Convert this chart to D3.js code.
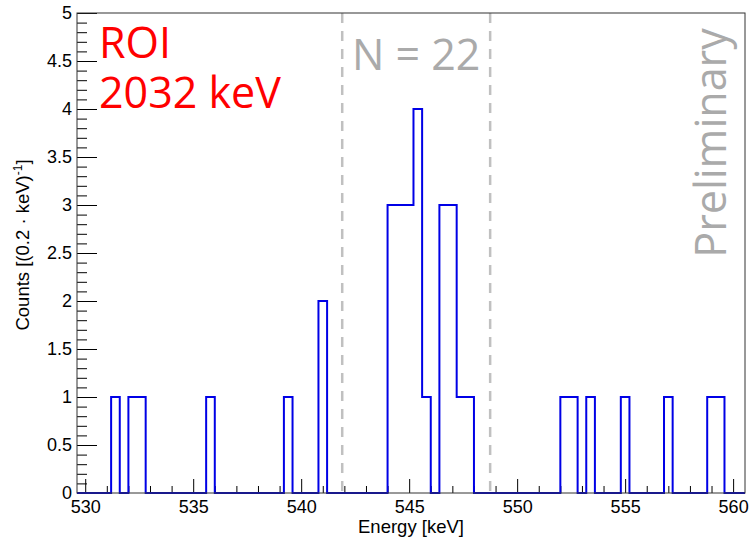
<!DOCTYPE html>
<html>
<head>
<meta charset="utf-8">
<script src="https://cdn.jsdelivr.net/npm/d3@7"></script>
<style>
  body { margin: 0; background: #fff; }
  svg { display: block; }
  .axis text { font-family: "Liberation Sans", Arial, sans-serif; font-size: 18px; fill: #000; }
  .axis path { display: none; }
  .axis line { stroke: #000; stroke-width: 1; }
</style>
</head>
<body>
<div id="chart"></div>
<script>
// histogram bins (lower edges, keV) with non-zero counts, bin width 0.4 keV
const binWidth = 0.4;
const binLow = [531.2, 532.0, 532.4, 535.6, 539.2, 540.8,
                544.0, 544.4, 544.8, 545.2, 545.6, 546.4, 546.8, 547.2, 547.6,
                552.0, 552.4, 553.2, 554.8, 556.8, 558.8, 559.2];
const counts = [1, 1, 1, 1, 1, 2,
                3, 3, 3, 4, 1, 3, 3, 1, 1,
                1, 1, 1, 1, 1, 1, 1];
const xRange = [529.62, 560.55];
const yRange = [0, 5];
const xTicks = [530, 535, 540, 545, 550, 555, 560];
const yTicks = [0, 0.5, 1, 1.5, 2, 2.5, 3, 3.5, 4, 4.5, 5];
const roiEdges = [541.9, 548.75];
const roiCount = "N = 22";

const W = 751, H = 541;
const margin = { top: 13, right: 6, bottom: 48, left: 77 },
      width = W - margin.left - margin.right,
      height = H - margin.top - margin.bottom;

const svg = d3.select("#chart").append("svg")
  .attr("width", W)
  .attr("height", H);

const g = svg.append("g")
  .attr("transform", `translate(${margin.left},${margin.top})`);

const x = d3.scaleLinear().domain(xRange).range([0, width]);
const y = d3.scaleLinear().domain(yRange).range([height, 0]);

// ROI dashed lines
g.selectAll(".roi")
  .data(roiEdges)
  .enter().append("line")
  .attr("x1", d => x(d)).attr("x2", d => x(d))
  .attr("y1", 0).attr("y2", height)
  .attr("stroke", "#c0c0c0")
  .attr("stroke-width", 2.5)
  .attr("stroke-dasharray", "10,8");

// minor ticks
const xMinor = d3.range(530, 561, 1).filter(v => v % 5 !== 0);
g.append("g").attr("class", "axis")
  .attr("transform", `translate(0,${height})`)
  .call(d3.axisBottom(x).tickValues(xMinor).tickSizeInner(-7).tickSizeOuter(0).tickFormat(""));
const yMinor = d3.range(0, 51).map(i => i / 10).filter(v => Math.round(v * 10) % 5 !== 0);
g.append("g").attr("class", "axis")
  .call(d3.axisLeft(y).tickValues(yMinor).tickSizeInner(-10).tickSizeOuter(0).tickFormat(""));

// major axes
g.append("g").attr("class", "axis")
  .attr("transform", `translate(0,${height})`)
  .call(d3.axisBottom(x).tickValues(xTicks).tickSizeInner(-14).tickSizeOuter(0).tickPadding(7));
g.append("g").attr("class", "axis")
  .call(d3.axisLeft(y).tickValues(yTicks).tickSizeInner(-20).tickSizeOuter(0).tickPadding(5)
    .tickFormat(d3.format("~g")));

// histogram outline
const nBins = Math.round((560.4 - 529.6) / binWidth);
const full = d3.range(nBins).map(i => ({ lo: 529.6 + i * binWidth, c: 0 }));
binLow.forEach((lo, i) => {
  const k = Math.round((lo - 529.6) / binWidth);
  full[k].c = counts[i];
});
const pts = [[xRange[0], 0]];
full.forEach(b => { pts.push([b.lo, b.c]); pts.push([b.lo + binWidth, b.c]); });
pts.push([xRange[1], 0]);

svg.append("clipPath").attr("id", "clip")
  .append("rect").attr("x", 0).attr("y", -2).attr("width", width).attr("height", height + 4);

g.append("path")
  .datum(pts)
  .attr("clip-path", "url(#clip)")
  .attr("fill", "none")
  .attr("stroke", "#0000e6")
  .attr("stroke-width", 2)
  .attr("d", d3.line().x(d => x(Math.max(xRange[0], Math.min(xRange[1], d[0])))).y(d => y(d[1])));

// frame
g.append("rect")
  .attr("width", width).attr("height", height)
  .attr("fill", "none").attr("stroke", "#333").attr("stroke-width", 1);

// axis titles
svg.append("text")
  .attr("x", margin.left + width / 2)
  .attr("y", 533)
  .attr("text-anchor", "middle")
  .style("font-family", "Liberation Sans, Arial, sans-serif")
  .style("font-size", "18.5px")
  .text("Energy [keV]");

const yt = svg.append("text")
  .attr("transform", `translate(29,${margin.top + height / 2 - 8}) rotate(-90)`)
  .attr("text-anchor", "middle")
  .style("font-family", "Liberation Sans, Arial, sans-serif")
  .style("font-size", "18.5px");
yt.append("tspan").text("Counts [(0.2 · keV)");
yt.append("tspan").attr("dy", -7).style("font-size", "12px").text("-1");
yt.append("tspan").attr("dy", 7).text("]");

// labels
const big = "'Open Sans', 'Noto Sans', sans-serif";
svg.append("text").attr("x", 99).attr("y", 58)
  .style("font-family", big).style("font-size", "43px").attr("fill", "#ff0000").text("ROI");
svg.append("text").attr("x", 99).attr("y", 108)
  .style("font-family", big).style("font-size", "43px").attr("fill", "#ff0000").text("2032 keV");

g.append("text")
  .attr("x", x((roiEdges[0] + roiEdges[1]) / 2))
  .attr("y", 57)
  .attr("text-anchor", "middle")
  .style("font-family", big).style("font-size", "43px").attr("fill", "#aaaaaa")
  .text(roiCount);

svg.append("text")
  .attr("transform", "translate(726,143) rotate(-90)")
  .attr("text-anchor", "middle")
  .style("font-family", big).style("font-size", "43px").attr("fill", "#aaaaaa")
  .text("Preliminary");
</script>
</body>
</html>
